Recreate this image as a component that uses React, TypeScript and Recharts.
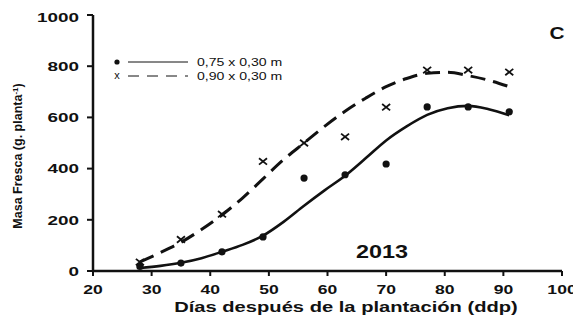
import React from "react";
import { ComposedChart, Line, Scatter, XAxis, YAxis, Customized } from "recharts";

const days = [28, 35, 42, 49, 56, 63, 70, 77, 84, 91];
const obs075 = [18, 31, 75, 133, 363, 376, 418, 641, 641, 622];
const obs090 = [35, 123, 222, 428, 500, 524, 640, 785, 785, 777];

const fitDays = [28, 31.5, 35, 38.5, 42, 45.5, 49, 52.5, 56, 59.5, 63, 66.5, 70, 73.5, 77, 80.5, 84, 87.5, 91];
const fit075 = [12, 20, 32, 50, 75, 102, 138, 192, 255, 315, 372, 440, 510, 565, 610, 636, 645, 632, 608];
const fit090 = [35, 72, 112, 162, 219, 285, 360, 435, 500, 565, 624, 675, 720, 752, 772, 776, 763, 745, 720];

const xTicks = [20, 30, 40, 50, 60, 70, 80, 90, 100];
const yTicks = [0, 200, 400, 600, 800, 1000];

const legendLabels = ["0,75 x 0,30 m", "0,90 x 0,30 m"];
const panelLabel = "C";
const yearLabel = "2013";
const xTitle = "Días después de la plantación (ddp)";

const scatter075 = days.map((d, i) => ({ x: d, y: obs075[i] }));
const scatter090 = days.map((d, i) => ({ x: d, y: obs090[i] }));
const line075 = fitDays.map((d, i) => ({ x: d, y: fit075[i] }));
const line090 = fitDays.map((d, i) => ({ x: d, y: fit090[i] }));

const FONT = "'Liberation Sans', Arial, sans-serif";

const YTick = (props: any) => {
  const { x, y, payload } = props;
  return (
    <g transform={`translate(${x - 6},${y}) scale(1.4,1)`}>
      <text x={0} y={0} dy="0.36em" textAnchor="end" fontFamily={FONT} fontWeight="bold" fontSize={13.5} fill="#111">
        {payload.value}
      </text>
    </g>
  );
};

const XTick = (props: any) => {
  const { x, y, payload } = props;
  return (
    <g transform={`translate(${x},${y + 16}) scale(1.35,1)`}>
      <text x={0} y={0} textAnchor="middle" fontFamily={FONT} fontWeight="bold" fontSize={13} fill="#111">
        {payload.value}
      </text>
    </g>
  );
};

const Dot = (props: any) => {
  const { cx, cy } = props;
  return <circle cx={cx} cy={cy} r={3.6} fill="#111" />;
};

const Cross = (props: any) => {
  const { cx, cy } = props;
  const s = 4;
  return (
    <g stroke="#111" strokeWidth={1.8}>
      <line x1={cx - s} y1={cy - s * 0.8} x2={cx + s} y2={cy + s * 0.8} />
      <line x1={cx - s} y1={cy + s * 0.8} x2={cx + s} y2={cy - s * 0.8} />
    </g>
  );
};

const Extras = () => (
  <g fontFamily={FONT} fill="#111">
    <circle cx={109} cy={54} r={2.6} fill="#111" />
    <line x1={120} y1={54} x2={180} y2={54} stroke="#111" strokeWidth={1} />
    <g transform="translate(189,58) scale(1.28,1)">
      <text x={0} y={0} fontSize={11} fontWeight="500">{legendLabels[0]}</text>
    </g>
    <text x={109} y={71} fontSize={11} textAnchor="middle">x</text>
    <line x1={120} y1={68} x2={180} y2={68} stroke="#111" strokeWidth={1} strokeDasharray="11 8" />
    <g transform="translate(189,72) scale(1.28,1)">
      <text x={0} y={0} fontSize={11} fontWeight="500">{legendLabels[1]}</text>
    </g>
    <g transform="translate(549,31) scale(1.3,1)">
      <text x={0} y={0} fontSize={16} fontWeight="bold" textAnchor="middle">{panelLabel}</text>
    </g>
    <g transform="translate(374,250) scale(1.3,1)">
      <text x={0} y={0} fontSize={18} fontWeight="bold" textAnchor="middle">{yearLabel}</text>
    </g>
    <g transform="translate(338,304) scale(1.44,1)">
      <text x={0} y={0} fontSize={14} fontWeight="bold" textAnchor="middle">{xTitle}</text>
    </g>
    <g transform="translate(14,148) rotate(-90)">
      <text x={0} y={0} fontSize={12.5} fontWeight="bold" textAnchor="middle">
        Masa Fresca (g. planta<tspan dy={-4} fontSize={8}>-1</tspan><tspan dy={4}>)</tspan>
      </text>
    </g>
  </g>
);

export default function App() {
  return (
    <div style={{ width: 573, height: 310, background: "#fff" }}>
      <ComposedChart width={573} height={310} margin={{ top: 7, right: 19, left: 0, bottom: 0 }}>
        <XAxis
          type="number"
          dataKey="x"
          domain={[20, 100]}
          ticks={xTicks}
          allowDataOverflow
          height={47}
          tick={<XTick />}
          tickSize={5}
          axisLine={{ stroke: "#111", strokeWidth: 2.5 }}
          tickLine={{ stroke: "#111", strokeWidth: 2 }}
        />
        <YAxis
          type="number"
          dataKey="y"
          domain={[0, 1000]}
          ticks={yTicks}
          width={85}
          tick={<YTick />}
          tickSize={6}
          axisLine={{ stroke: "#111", strokeWidth: 2.5 }}
          tickLine={{ stroke: "#111", strokeWidth: 2 }}
        />
        <Line
          data={line075}
          dataKey="y"
          type="monotone"
          stroke="#111"
          strokeWidth={2.6}
          dot={false}
          activeDot={false}
          isAnimationActive={false}
        />
        <Line
          data={line090}
          dataKey="y"
          type="monotone"
          stroke="#111"
          strokeWidth={3}
          strokeDasharray="15 8"
          dot={false}
          activeDot={false}
          isAnimationActive={false}
        />
        <Scatter data={scatter075} dataKey="y" shape={<Dot />} isAnimationActive={false} />
        <Scatter data={scatter090} dataKey="y" shape={<Cross />} isAnimationActive={false} />
        <Customized component={Extras} />
      </ComposedChart>
    </div>
  );
}
